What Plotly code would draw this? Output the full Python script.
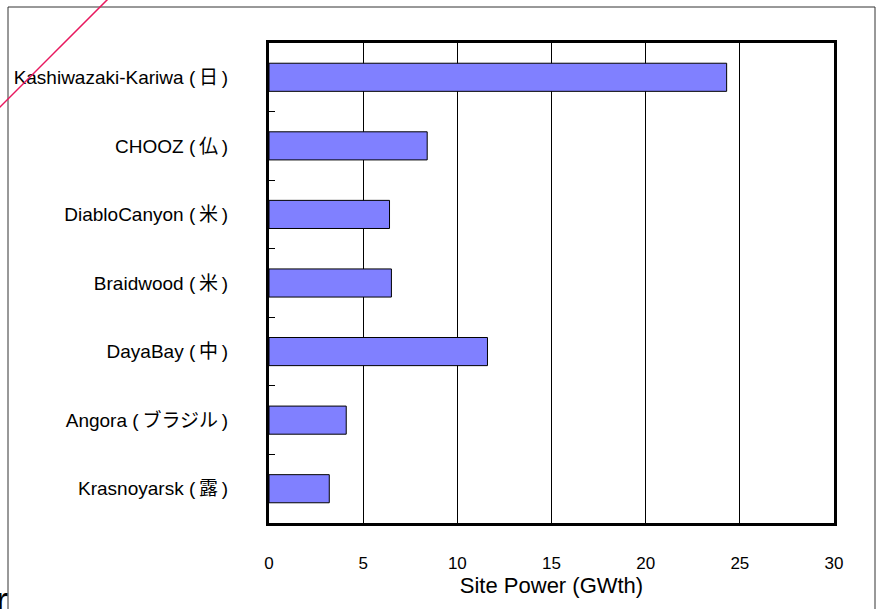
import plotly.graph_objects as go

# Reactor sites and their total thermal power
sites = [
    "Kashiwazaki-Kariwa (\u2009日\u2009)",
    "CHOOZ (\u2009仏\u2009)",
    "DiabloCanyon (\u2009米\u2009)",
    "Braidwood (\u2009米\u2009)",
    "DayaBay (\u2009中\u2009)",
    "Angora (\u2009ブラジル\u2009)",
    "Krasnoyarsk (\u2009露\u2009)",
]
site_power_gwth = [24.3, 8.4, 6.4, 6.5, 11.6, 4.1, 3.2]
x_ticks = [0, 5, 10, 15, 20, 25, 30]

W, H = 879, 609
L, R, T, B = 269, 45, 43, 86
pw, ph = W - L - R, H - T - B


def px_to_paper(px, py):
    return (px - L) / pw, (H - B - py) / ph


fig = go.Figure(
    go.Bar(
        x=site_power_gwth,
        y=sites,
        orientation="h",
        marker=dict(color="#8080FF", line=dict(color="#000000", width=1)),
    )
)

# outer frame and diagonal stroke drawn in paper space
fx0, fy0 = px_to_paper(8, 640)
fx1, fy1 = px_to_paper(875, 7)
lx0, ly0 = px_to_paper(109, -2)
lx1, ly1 = px_to_paper(-3, 110)
fig.add_shape(type="rect", xref="paper", yref="paper", x0=fx0, y0=fy0, x1=fx1, y1=fy1,
              line=dict(color="#333333", width=1), layer="below")
fig.add_shape(type="line", xref="paper", yref="paper", x0=lx0, y0=ly0, x1=lx1, y1=ly1,
              line=dict(color="#E8185E", width=1.5))

rx, ry = px_to_paper(10, 578)
fig.add_annotation(xref="paper", yref="paper", x=rx, y=ry, text="r", showarrow=False,
                   xanchor="right", yanchor="top",
                   font=dict(family="Liberation Sans", size=36, color="#000000"))

fig.update_layout(
    width=W, height=H,
    margin=dict(l=L, r=R, t=T, b=B),
    paper_bgcolor="white", plot_bgcolor="white",
    bargap=0.59,
    showlegend=False,
    font=dict(family="Liberation Sans, Noto Sans CJK JP", color="#000000"),
)
fig.update_xaxes(
    range=[0, 30], tickvals=x_ticks, ticks="",
    showgrid=True, gridcolor="#000000", gridwidth=1, zeroline=False,
    showline=True, linecolor="#000000", linewidth=3, mirror=True,
    tickfont=dict(family="Liberation Sans", size=17),
    ticklabelstandoff=23,
    title=dict(text="Site Power (GWth)", font=dict(family="Liberation Sans", size=22), standoff=1),
)
fig.update_yaxes(
    autorange="reversed", ticks="inside", tickson="boundaries", ticklen=6,
    tickcolor="#000000", tickwidth=1,
    showgrid=False, showline=True, linecolor="#000000", linewidth=3, mirror=True,
    tickfont=dict(family="Liberation Sans, Noto Sans CJK JP", size=19),
    ticklabelstandoff=34,
)

fig.write_html("out.html")
